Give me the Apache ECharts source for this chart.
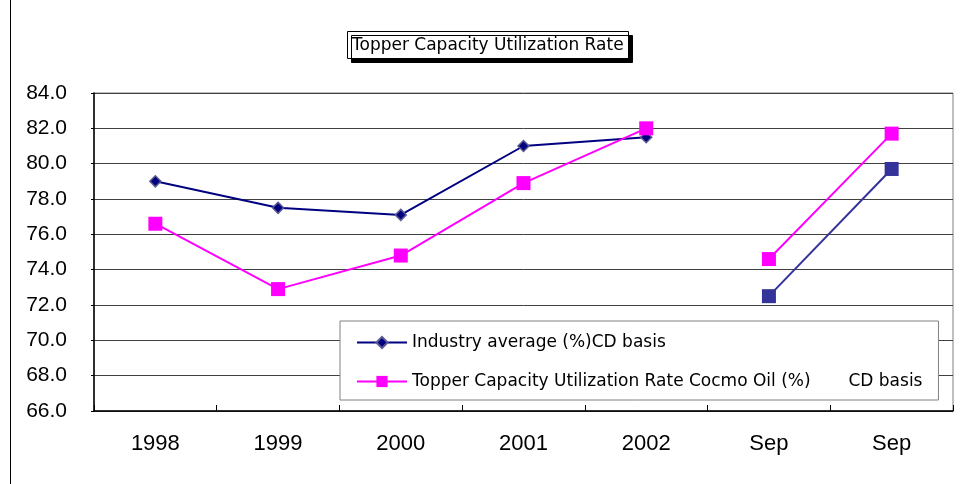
<!DOCTYPE html>
<html><head><meta charset="utf-8">
<script src="https://cdn.jsdelivr.net/npm/echarts@6/dist/echarts.min.js"></script>
<style>html,body{margin:0;padding:0;background:#fff}#c{width:962px;height:484px}</style>
</head><body><div id="c"></div>
<script>
const categories = ['1998','1999','2000','2001','2002','Sep','Sep'];
const industryYears = [79.0, 77.5, 77.1, 81.0, 81.5, '-', '-'];
const industrySep   = ['-', '-', '-', '-', '-', 72.5, 79.7];
const cosmoYears    = [76.6, 72.9, 74.8, 78.9, 82.0, '-', '-'];
const cosmoSep      = ['-', '-', '-', '-', '-', 74.6, 81.7];
const yTicks = { min: 66, max: 84, step: 2 };
const nameIndustry = 'Industry average (%)CD basis';
const nameCosmo = 'Topper Capacity Utilization Rate Cocmo Oil (%)       CD basis';

const chart = echarts.init(document.getElementById('c'), null, {renderer:'canvas'});
const font = 'Liberation Sans, Arial, sans-serif';
const wideFont = 'DejaVu Sans, sans-serif';
chart.setOption({
  animation: false,
  backgroundColor: '#fff',
  textStyle: { fontFamily: font },
  graphic: [{ type: 'line', shape: { x1: 10.5, y1: 0, x2: 10.5, y2: 484 }, style: { stroke: '#000', lineWidth: 1 } }],
  title: {
    text: 'Topper Capacity Utilization Rate',
    left: 347, top: 31,
    padding: [6, 5, 5, 5],
    backgroundColor: '#fff',
    borderColor: '#000', borderWidth: 1,
    shadowColor: '#000', shadowOffsetX: 4, shadowOffsetY: 4, shadowBlur: 0,
    textStyle: { fontFamily: wideFont, fontSize: 17, fontWeight: 'normal', color: '#000' }
  },
  legend: {
    orient: 'vertical', left: 340, top: 321,
    padding: [13, 16, 10, 16], itemGap: 22,
    itemWidth: 50, itemHeight: 14,
    backgroundColor: '#fff', borderColor: '#808080', borderWidth: 1,
    textStyle: { fontFamily: wideFont, fontSize: 17, color: '#000' },
    data: [nameIndustry, nameCosmo]
  },
  grid: { left: 94, right: 9, top: 93, bottom: 73, show: true, borderColor: '#808080', borderWidth: 1 },
  xAxis: {
    type: 'category', data: categories, boundaryGap: true,
    axisLine: { lineStyle: { color: '#000', width: 1.5 } },
    axisTick: { show: true, length: 6, inside: true, lineStyle: { color: '#000' } },
    axisLabel: { fontFamily: font, fontSize: 22, color: '#000', margin: 22 }
  },
  yAxis: {
    type: 'value', min: yTicks.min, max: yTicks.max, interval: yTicks.step,
    axisLine: { show: true, lineStyle: { color: '#000', width: 1.5 } },
    axisTick: { show: true, length: 3, lineStyle: { color: '#000' } },
    axisLabel: { fontFamily: font, fontSize: 21, color: '#000', margin: 27, formatter: v => v.toFixed(1) },
    splitLine: { lineStyle: { color: '#404040', width: 1 } }
  },
  series: [
    { name: nameIndustry, type: 'line', data: industryYears, symbol: 'diamond', symbolSize: 11,
      lineStyle: { color: '#000080', width: 2 },
      itemStyle: { color: '#000080', borderColor: '#5a5a90', borderWidth: 1.5 }, z: 3 },
    { name: nameCosmo, type: 'line', data: cosmoYears, symbol: 'rect', symbolSize: 14,
      lineStyle: { color: '#FF00FF', width: 2 },
      itemStyle: { color: '#FF00FF' }, z: 4 },
    { name: 'industrySep', type: 'line', data: industrySep, symbol: 'rect', symbolSize: 14,
      lineStyle: { color: '#333399', width: 2 },
      itemStyle: { color: '#333399' }, z: 3 },
    { name: 'cosmoSep', type: 'line', data: cosmoSep, symbol: 'rect', symbolSize: 14,
      lineStyle: { color: '#FF00FF', width: 2 },
      itemStyle: { color: '#FF00FF' }, z: 4 }
  ]
});
</script></body></html>
